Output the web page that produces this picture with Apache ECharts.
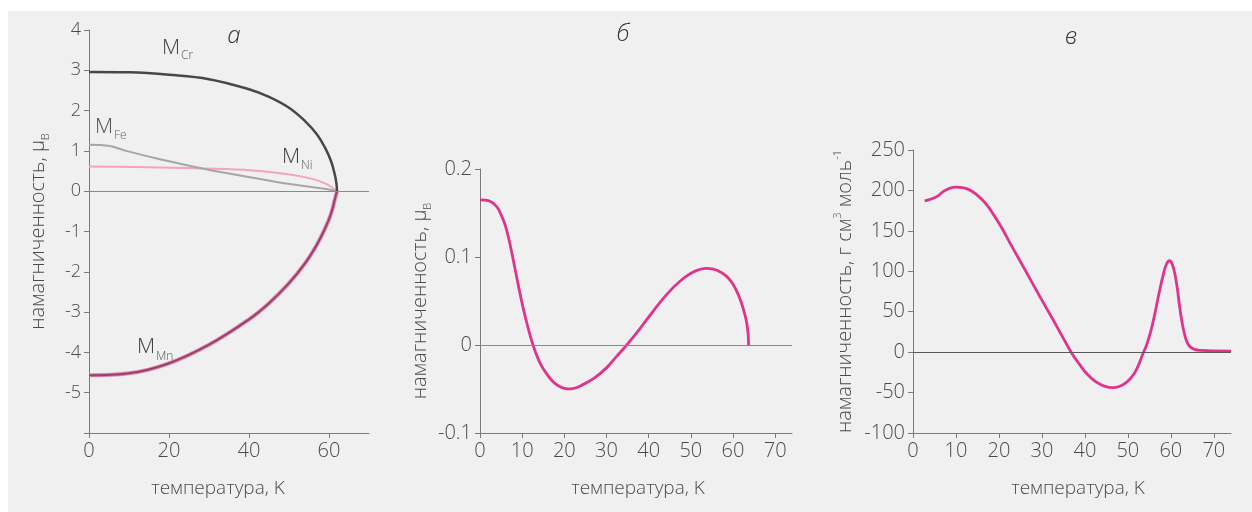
<!DOCTYPE html>
<html>
<head>
<meta charset="utf-8">
<script src="https://cdn.jsdelivr.net/npm/echarts@6/dist/echarts.min.js"></script>
<style>
  html, body { margin: 0; padding: 0; background: #ffffff; }
  #wrap { position: relative; width: 1252px; height: 512px; background: #ffffff; }
  #panel { position: absolute; left: 8px; top: 11px; width: 1244px; height: 501px; background: #f0f0f0; }
  #c { position: absolute; left: 0; top: 0; width: 1252px; height: 512px; }
</style>
</head>
<body>
<div id="wrap"><div id="panel"></div><div id="c"></div></div>
<script>
// ---- Panel а: sublattice moments (μB) vs temperature (K) ----
const crT = [0, 10, 20, 30, 40, 45, 50, 54, 57, 59, 60.5, 61.5, 61.85, 62];
const crM = [2.96, 2.95, 2.89, 2.78, 2.53, 2.34, 2.07, 1.74, 1.41, 1.08, 0.75, 0.39, 0.2, 0];

const feT = [0, 5.2, 9.3, 17.7, 26, 34.3, 42.7, 51, 59.3, 62];
const feM = [1.15, 1.12, 1.0, 0.795, 0.615, 0.45, 0.303, 0.164, 0.057, 0];

const niT = [0, 17.7, 34.3, 42.7, 51, 56, 59.3, 62];
const niM = [0.615, 0.59, 0.55, 0.5, 0.40, 0.30, 0.18, 0];

const mnT = [0, 10, 20, 30, 40, 45, 50, 54, 57, 59, 60.5, 61.5, 62];
const mnM = [-4.57, -4.52, -4.27, -3.81, -3.18, -2.78, -2.28, -1.79, -1.32, -0.93, -0.56, -0.19, 0];

// ---- Panel б: net magnetisation (μB) ----
const bT = [0, 2, 4, 5, 6, 7, 8, 9, 10, 11, 12, 13, 14, 15, 16, 17, 18, 19, 20, 21, 22, 24, 27, 30, 32.4, 34.8,
            38, 41.1, 44.3, 47.5, 50.6, 53.8, 56.2, 58.5, 60, 61, 62, 62.8, 63.3, 63.6, 63.7];
const bM = [0.165, 0.164, 0.157, 0.148, 0.136, 0.117, 0.094, 0.070, 0.047, 0.027, 0.009, -0.006, -0.018, -0.027,
            -0.034, -0.040, -0.0445, -0.0475, -0.0492, -0.0498, -0.0495, -0.046, -0.038, -0.026, -0.013, 0,
            0.019, 0.0386, 0.0576, 0.0727, 0.083, 0.087, 0.085, 0.078, 0.069, 0.06, 0.048, 0.035, 0.024, 0.012, 0];

// ---- Panel в: magnetisation (г см³ моль⁻¹) ----
const vT = [2.7, 4, 5, 6, 7, 8.5, 10, 11.5, 13, 14.5, 16, 17.5, 19, 20.5, 23.3, 26.4, 29.5, 32.6, 35, 36.8,
            38.8, 40.5, 42.5, 44.5, 46.5, 48, 49.6, 51, 52, 53, 53.5, 54.3, 55.3, 56.3, 57.3, 58.3, 59, 59.7,
            60.3, 60.9, 61.5, 62, 62.6, 63.2, 63.8, 64.5, 65.5, 67, 70, 74];
const vM = [187, 189, 191, 194, 198.5, 202.5, 204, 203.5, 201, 196, 189, 180, 168, 155, 128, 98.7, 69, 40, 17, 0,
            -15.5, -27, -36.5, -42, -44, -42.5, -37.8, -30, -21.5, -9, -2, 8, 25, 48, 74, 97, 109, 113,
            109, 98, 79, 58, 37, 22, 12, 6.5, 3.5, 2.2, 1.5, 1.3];

// ---- Tick values ----
const axATicksX = [0, 20, 40, 60];
const axATicksY = [-5, -4, -3, -2, -1, 0, 1, 2, 3, 4];
const axBVTicksX = [0, 10, 20, 30, 40, 50, 60, 70];

const zip = (xs, ys) => xs.map((x, i) => [x, ys[i]]);

const FONT = 'Open Sans';
const TXT = '#4a4a4a';
const AX = '#7a7a7a';
const PINK = '#e0338a';

function xAxisOf(grid, max, ticks, shift) {
  return {
    type: 'value', gridIndex: grid, min: 0, max: max, interval: 10,
    name: 'температура, K', nameLocation: 'middle', nameGap: 46,
    nameTextStyle: { fontFamily: FONT, fontSize: 19, color: TXT, fontWeight: 300,
                     padding: shift < 0 ? [0, -2 * shift, 0, 0] : [0, 0, 0, 2 * shift] },
    axisLine: { show: true, onZero: false, lineStyle: { color: AX, width: 1 } },
    axisTick: { show: true, length: 5, customValues: ticks, lineStyle: { color: AX } },
    axisLabel: { customValues: ticks, fontFamily: FONT, fontSize: 20, color: TXT, margin: 8, fontWeight: 300 },
    splitLine: { show: false }
  };
}

function yAxisOf(grid, min, max, interval, labelSize, name, rich, gap, labelTicks) {
  const label = { fontFamily: FONT, fontSize: labelSize, color: TXT, margin: 8, fontWeight: 300 };
  if (labelTicks) label.customValues = labelTicks;
  return {
    type: 'value', gridIndex: grid, min: min, max: max, interval: interval,
    name: name, nameLocation: 'middle', nameGap: gap, nameRotate: 90,
    nameTextStyle: { fontFamily: FONT, fontSize: 20, color: TXT, fontWeight: 300, rich: rich },
    axisLine: { show: true, onZero: false, lineStyle: { color: AX, width: 1 } },
    axisTick: { show: true, length: 5, lineStyle: { color: AX } },
    axisLabel: label,
    splitLine: { show: false }
  };
}

const zeroLine = (color) => ({
  silent: true, symbol: 'none', label: { show: false },
  lineStyle: { color: color, width: 1, type: 'solid' },
  data: [{ yAxis: 0 }]
});

const lineSeries = (xi, data, color, width, extra) => Object.assign({
  type: 'line', xAxisIndex: xi, yAxisIndex: xi, data: data,
  showSymbol: false, symbol: 'none', smooth: 0.4,
  lineStyle: { color: color, width: width }, z: 3
}, extra || {});

const muRich = {
  t: { fontFamily: FONT, fontSize: 20, color: TXT, fontWeight: 300, lineHeight: 26 },
  s: { fontFamily: FONT, fontSize: 11, color: TXT, fontWeight: 300, lineHeight: 12, verticalAlign: 'bottom' }
};
const molRich = {
  t: { fontFamily: FONT, fontSize: 20, color: TXT, fontWeight: 300, lineHeight: 26 },
  p: { fontFamily: FONT, fontSize: 11, color: TXT, fontWeight: 300, lineHeight: 12, verticalAlign: 'top' }
};

// Annotation text helper (series names with subscripts, panel letters)
const txt = (x, y, s, size, color, style) => ({
  type: 'text', x: x, y: y, silent: true,
  style: Object.assign({ text: s, fontFamily: FONT, fontSize: size, fill: color, fontWeight: 300,
           align: 'left', verticalAlign: 'middle' }, style || {})
});
const letter = (x, y, s) => txt(x, y, s, 24, '#333', { fontStyle: 'italic', align: 'center' });

const chart = echarts.init(document.getElementById('c'), null, { renderer: 'canvas' });
chart.setOption({
  backgroundColor: 'transparent',
  animation: false,
  grid: [
    { left: 89, top: 30, width: 280, height: 403 },
    { left: 480, top: 169, width: 312, height: 264 },
    { left: 913, top: 150, width: 318, height: 283 }
  ],
  xAxis: [
    xAxisOf(0, 70, axATicksX, -11),
    xAxisOf(1, 74, axBVTicksX, 2),
    xAxisOf(2, 74, axBVTicksX, 6)
  ],
  yAxis: [
    yAxisOf(0, -6, 4, 1, 18, '{t|намагниченность, μ}{s|B}', muRich, 38, axATicksY),
    yAxisOf(1, -0.1, 0.2, 0.1, 20, '{t|намагниченность, μ}{s|B}', muRich, 47),
    yAxisOf(2, -100, 250, 50, 20, '{t|намагниченность, г см}{p|3}{t| моль}{p|-1}', molRich, 55)
  ],
  series: [
    lineSeries(0, zip(niT, niM), '#f2a3c6', 2, { markLine: zeroLine('#8a8a8a') }),
    lineSeries(0, zip(feT, feM), '#a6a6a6', 2),
    lineSeries(0, zip(mnT, mnM), '#d98bb0', 4),
    lineSeries(0, zip(mnT, mnM), '#9e3f6b', 2),
    lineSeries(0, zip(crT, crM), '#474747', 2.5),
    lineSeries(1, zip(bT, bM), PINK, 2.8, { markLine: zeroLine('#8a8a8a') }),
    lineSeries(2, zip(vT, vM), PINK, 2.8, { markLine: zeroLine('#5a5a5a') })
  ],
  graphic: [
    letter(234, 36, 'а'),
    letter(623, 34, 'б'),
    letter(1071, 37, 'в'),
    txt(162, 48, 'M', 21, '#444'),
    txt(181, 56, 'Cr', 12, '#555'),
    txt(95, 127, 'M', 21, '#555'),
    txt(114, 136, 'Fe', 12, '#666'),
    txt(282, 157, 'M', 21, '#444'),
    txt(301, 166, 'Ni', 12, '#555'),
    txt(137, 347, 'M', 21, '#444'),
    txt(156, 357, 'Mn', 12, '#555')
  ]
});
</script>
</body>
</html>
